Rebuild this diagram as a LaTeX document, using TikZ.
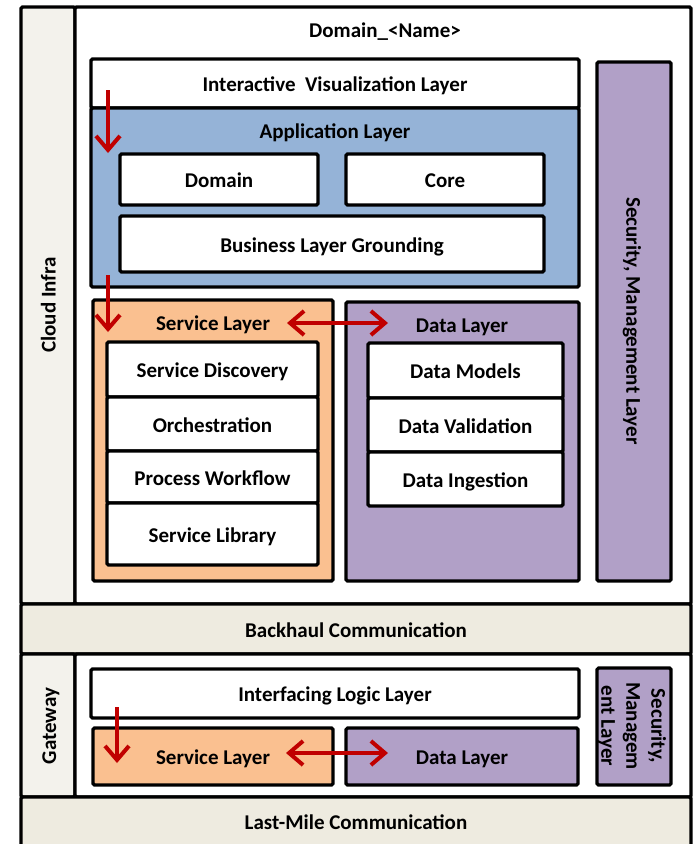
\documentclass[tikz,border=0pt]{standalone}
\usepackage{fontspec}
\setmainfont{Carlito}
\usetikzlibrary{arrows.meta}
\definecolor{appblue}{HTML}{95B3D7}
\definecolor{svcorange}{HTML}{FAC090}
\definecolor{datapurple}{HTML}{B1A0C7}
\definecolor{commbeige}{HTML}{EEEBE0}
\definecolor{sidegrey}{HTML}{F3F2EC}
\definecolor{flowred}{HTML}{C00000}
\begin{document}
\begin{tikzpicture}[x=1pt,y=-1pt,
  font=\bfseries\fontsize{21}{25}\selectfont,
  layer/.style={draw=black, line width=3.2pt, rounded corners=1.5pt, inner sep=0pt, align=center,
                text height=16pt, text depth=0pt},
  lbl/.style={inner sep=0pt, align=center, text height=13.3pt, text depth=0pt},
  multilbl/.style={inner sep=0pt, align=center},
  flow/.style={draw=flowred, line width=4pt, -{Straight Barb[length=14pt,width=24pt]}},
  flowboth/.style={draw=flowred, line width=4pt, {Straight Barb[length=14pt,width=24pt]}-{Straight Barb[length=14pt,width=24pt]}}
]
\useasboundingbox (0,0) rectangle (696,844);

% ---- cloud tier ----
\node[layer, fill=sidegrey, minimum width=54pt, minimum height=597pt] (cloud) at (48,305.5) {};
\node[lbl, rotate=90] (cloudlbl) at (49,305) {Cloud Infra};
\node[layer, fill=white, minimum width=616pt, minimum height=597pt] (domain) at (383,305.5) {};
\node[lbl] (domainlbl) at (385,31) {Domain\_<Name>};

\node[layer, fill=white, minimum width=488pt, minimum height=49pt] (vis) at (335,83.5) {Interactive\ \ Visualization Layer};
\node[layer, fill=appblue, minimum width=488pt, minimum height=179pt] (app) at (335,197.5) {};
\node[lbl] (applbl) at (335,131.5) {Application Layer};
\node[layer, fill=white, minimum width=198pt, minimum height=51pt] (dom) at (219,179.5) {Domain};
\node[layer, fill=white, minimum width=198pt, minimum height=51pt] (core) at (445,179.5) {Core};
\node[layer, fill=white, minimum width=424pt, minimum height=56pt] (blg) at (332,244) {Business Layer Grounding};

\node[layer, fill=datapurple, minimum width=74pt, minimum height=519pt] (sec) at (634,321.5) {};
\node[lbl, rotate=-90] (seclbl) at (633,321) {Security, Management Layer};

\node[layer, fill=svcorange, minimum width=240pt, minimum height=281pt] (svc) at (213,440.5) {};
\node[lbl] (svclbl) at (213,324) {Service Layer};
\node[layer, fill=white, minimum width=211pt, minimum height=55pt] (sd) at (212.5,369.5) {Service Discovery};
\node[layer, fill=white, minimum width=211pt, minimum height=54pt] (orch) at (212.5,424) {Orchestration};
\node[layer, fill=white, minimum width=211pt, minimum height=52pt] (pw) at (212.5,477) {Process Workflow};
\node[layer, fill=white, minimum width=211pt, minimum height=62pt] (sl) at (212.5,534) {Service Library};

\node[layer, fill=datapurple, minimum width=233pt, minimum height=279pt] (data) at (462.5,441.5) {};
\node[lbl] (datalbl) at (462,326) {Data Layer};
\node[layer, fill=white, minimum width=195pt, minimum height=55pt] (dm) at (465.5,370.5) {Data Models};
\node[layer, fill=white, minimum width=195pt, minimum height=54pt] (dv) at (465.5,425) {Data Validation};
\node[layer, fill=white, minimum width=195pt, minimum height=54pt] (di) at (465.5,479) {Data Ingestion};

% ---- backhaul ----
\node[layer, fill=commbeige, minimum width=670pt, minimum height=50pt] (backhaul) at (356,629) {Backhaul Communication};

% ---- gateway tier ----
\node[layer, fill=sidegrey, minimum width=54pt, minimum height=143pt] (gwcol) at (48,725.5) {};
\node[lbl, rotate=90] (gwlbl) at (49.5,726) {Gateway};
\node[layer, fill=white, minimum width=616pt, minimum height=143pt] (gwarea) at (383,725.5) {};
\node[layer, fill=white, minimum width=488pt, minimum height=49pt] (ill) at (335,693.5) {Interfacing Logic Layer};
\node[layer, fill=svcorange, minimum width=240pt, minimum height=57pt] (gsvc) at (213,756.5) {Service Layer};
\node[layer, fill=datapurple, minimum width=232pt, minimum height=57pt] (gdata) at (462,756.5) {Data Layer};
\node[layer, fill=datapurple, minimum width=74pt, minimum height=117pt] (gsec) at (634,726.5) {};
\node[multilbl, rotate=-90] (gseclbl) at (632,726) {Security,\\Managem\\ent Layer};

% ---- last mile ----
\node[layer, fill=commbeige, minimum width=670pt, minimum height=56pt] (lastmile) at (356,825) {};
\node[lbl] (lastmilelbl) at (356,822.5) {Last-Mile Communication};

% ---- flows ----
\coordinate (a1s) at (108,90);   \coordinate (a1e) at (108,153);
\coordinate (a2s) at (108,275);  \coordinate (a2e) at (108,332);
\coordinate (a3s) at (287,323);  \coordinate (a3e) at (388,323);
\coordinate (a4s) at (117,707);  \coordinate (a4e) at (117,763);
\coordinate (a5s) at (286,753);  \coordinate (a5e) at (388,753);
\draw[flow] (a1s) -- (a1e);
\draw[flow] (a2s) -- (a2e);
\draw[flowboth] (a3s) -- (a3e);
\draw[flow] (a4s) -- (a4e);
\draw[flowboth] (a5s) -- (a5e);
\end{tikzpicture}
\end{document}
